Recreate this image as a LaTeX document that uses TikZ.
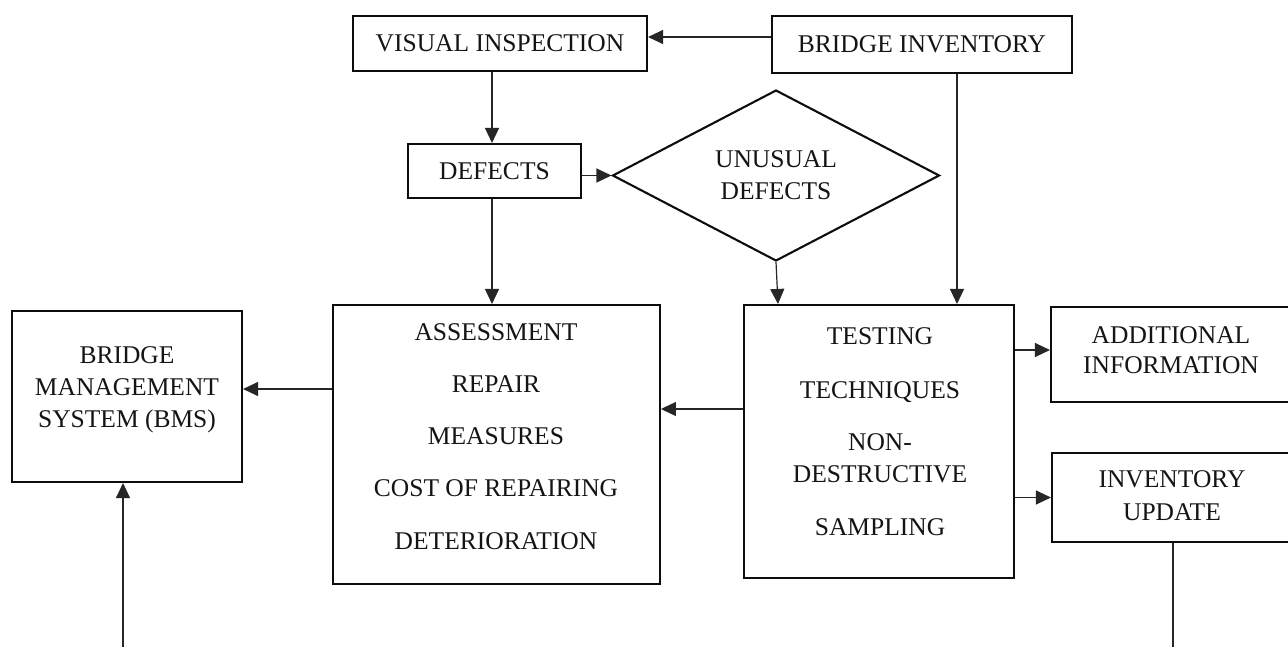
\documentclass[tikz,border=0pt]{standalone}
\usepackage{fontspec}
\setmainfont{Liberation Serif}
\usetikzlibrary{arrows.meta,shapes.geometric}

\definecolor{ink}{HTML}{141414}
\definecolor{edge}{HTML}{0D0D0D}
\definecolor{wire}{HTML}{262626}

\tikzset{
  box/.style={draw=edge, line width=2.1pt, rectangle, inner sep=0pt,
              text=ink, font=\fontsize{25.5}{30}\selectfont},
  blocktext/.style={inner sep=0pt, align=center, text=ink},
  decision/.style={draw=edge, line width=2.1pt, diamond, inner sep=0pt,
                   align=center, text=ink, font=\fontsize{25.5}{32}\selectfont},
  flow/.style={draw=wire, line width=1.2pt,
               -{Triangle[length=15pt,width=14pt]}},
  plain/.style={draw=wire, line width=1.2pt}
}

\begin{document}
\begin{tikzpicture}[x=1pt,y=-1pt]
\useasboundingbox (0,0) rectangle (1288,646);

% ---- boxes -------------------------------------------------------------
\node[box, minimum width=294pt, minimum height=55pt] (vi)  at (500,43.5) {VISUAL INSPECTION};
\node[box, minimum width=300pt, minimum height=57pt] (bi)  at (922,44.5) {BRIDGE INVENTORY};
\node[box, minimum width=173pt, minimum height=54pt] (def) at (494.5,171) {DEFECTS};
\node[decision, minimum width=327pt, minimum height=162pt] (dia) at (776,175.5) {UNUSUAL\\DEFECTS};

\node[box, minimum width=327pt, minimum height=279pt] (ass)  at (496.4,444.5) {};
\node[box, minimum width=270pt, minimum height=273pt] (test) at (879,441.5) {};
\node[box, minimum width=230pt, minimum height=171pt] (bms)  at (127,396.5) {};
\node[box, minimum width=240pt, minimum height=95pt]  (add)  at (1171,354.5) {};
\node[box, minimum width=239pt, minimum height=89pt]  (inv)  at (1171.5,497.5) {};

% ---- box texts ---------------------------------------------------------
\node[blocktext, font=\fontsize{25.5}{52.25}\selectfont] (assT) at (496,436.3)
  {ASSESSMENT\\REPAIR\\MEASURES\\COST OF REPAIRING\\DETERIORATION};
\node[blocktext, font=\fontsize{25.5}{32}\selectfont] (testT) at (880,431.3)
  {TESTING\\[22pt]TECHNIQUES\\[20pt]NON-\\DESTRUCTIVE\\[21pt]SAMPLING};
\node[blocktext, font=\fontsize{25.5}{32}\selectfont] (bmsT) at (127,389.4)
  {BRIDGE\\MANAGEMENT\\SYSTEM (BMS)};
\node[blocktext, font=\fontsize{25.5}{30}\selectfont] (addT) at (1171,349.8)
  {ADDITIONAL\\INFORMATION};
\node[blocktext, font=\fontsize{25.5}{33}\selectfont] (invT) at (1172,495.3)
  {INVENTORY\\UPDATE};

% ---- reference lines for the connectors ---------------------------------
\coordinate (rowTop)  at (0,37);
\coordinate (colDef)  at (492,0);
\coordinate (colBI)   at (957,0);
\coordinate (rowTA)   at (0,409);
\coordinate (rowAB)   at (0,389);
\coordinate (rowAdd)  at (0,350);
\coordinate (invEnd)  at (1173,652);
\coordinate (bmsFoot) at (123,652);

% ---- connectors --------------------------------------------------------
\draw[flow] (bi.west |- rowTop) -- (vi.east |- rowTop);
\draw[flow] (vi.south -| colDef) -- (def.north -| colDef);
\draw[flow] (def.east |- dia.west) -- (dia.west);
\draw[flow] (def.south -| colDef) -- (ass.north -| colDef);
\draw[flow] (dia.south) -- ([xshift=2pt]test.north -| dia.south);
\draw[flow] (bi.south -| colBI) -- (test.north -| colBI);
\draw[flow] (test.west |- rowTA) -- (ass.east |- rowTA);
\draw[flow] (ass.west |- rowAB) -- (bms.east |- rowAB);
\draw[flow] (test.east |- rowAdd) -- (add.west |- rowAdd);
\draw[flow] (test.east |- inv.west) -- (inv.west);
\draw[plain] (inv.south -| invEnd) -- (invEnd);
\draw[flow] (bmsFoot) -- (bms.south -| bmsFoot);
\end{tikzpicture}
\end{document}
